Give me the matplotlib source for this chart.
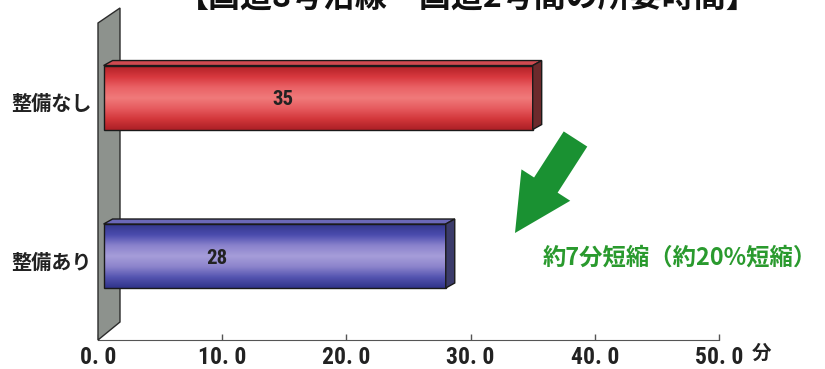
import matplotlib.pyplot as plt
import numpy as np
from matplotlib.colors import LinearSegmentedColormap
from matplotlib.patches import Polygon

plt.rcParams["font.family"] = ["Noto Sans CJK JP", "DejaVu Sans"]
NUM_FONT = ["Roboto Condensed", "DejaVu Sans"]

# travel time per case (minutes), bottom to top
categories = ["整備あり", "整備なし"]
minutes = [28, 35]
tick_values = [0, 10, 20, 30, 40, 50]
tick_labels = ["0. 0", "10. 0", "20. 0", "30. 0", "40. 0", "50. 0"]
title = "【国道8号沿線～国道2号間の所要時間】"
note = "約7分短縮（約20%短縮）"

# where the value sits inside each bar
label_pos = [9.6, 14.9]

W, H = 825, 369
fig = plt.figure(figsize=(W / 100, H / 100), dpi=100)

# plot box in pixels: x 0 -> 98px, 50 -> 719px, floor line at 340px
ax = fig.add_axes([98 / W, 1 - 340 / H, 621 / W, 332 / H])
xmin, xmax = 0, 50
ymin, ymax = -0.53, 1.565
ax.set_xlim(xmin, xmax)
ax.set_ylim(ymin, ymax)

px_x = 621 / (xmax - xmin)
px_y = 332 / (ymax - ymin)
dx, dy = 9 / px_x, 5 / px_y      # 3D depth offset
bar_h = 64 / px_y
x0 = 0.45

grad = {
    0: LinearSegmentedColormap.from_list(
        "blue", ["#33378c", "#4b4cae", "#8a82cc", "#a69dd9", "#8c84cc", "#5454b0", "#30348a"]),
    1: LinearSegmentedColormap.from_list(
        "red", ["#b22228", "#d8383e", "#ea6266", "#f07a7a", "#e65a5e", "#d2363a", "#ac2026"]),
}
top_col = {0: "#6b68b8", 1: "#cf4a50"}
side_col = {0: "#3b3b6a", 1: "#6c2a2c"}

# grey back wall
wall_w = 22 / px_x
wall = Polygon([(0, ymin), (wall_w, ymin + 18 / px_y), (wall_w, ymax),
                (0, ymax - 15 / px_y)], closed=True, facecolor="#8d928d",
               edgecolor="#2b2b2b", lw=1.0, clip_on=False, zorder=2)
ax.add_patch(wall)

for i, v in enumerate(minutes):
    yb, yt = i - bar_h / 2, i + bar_h / 2
    g = np.linspace(0, 1, 200).reshape(-1, 1)
    ax.imshow(g, cmap=grad[i], extent=(x0, v, yb, yt), origin="upper",
              aspect="auto", zorder=3, interpolation="bilinear")
    ax.add_patch(Polygon([(x0, yb), (v, yb), (v, yt), (x0, yt)], closed=True,
                         fill=False, edgecolor="#1a1a1a", lw=1.0, zorder=4))
    # top face
    ax.add_patch(Polygon([(x0, yt), (v, yt), (v + dx, yt + dy), (x0 + dx, yt + dy)],
                         closed=True, facecolor=top_col[i], edgecolor="#1a1a1a",
                         lw=1.0, zorder=4))
    # right face
    ax.add_patch(Polygon([(v, yb), (v + dx, yb + dy), (v + dx, yt + dy), (v, yt)],
                         closed=True, facecolor=side_col[i], edgecolor="#1a1a1a",
                         lw=1.0, zorder=4))
    ax.text(label_pos[i], i - 2 / px_y, str(v), ha="center", va="center",
            fontsize=15, fontweight="bold", color="#222222", zorder=5,
            family=NUM_FONT)
    ax.text(-0.5, i - 6 / px_y, categories[i], ha="right", va="center",
            fontsize=14.5, fontweight="bold", color="#222222")

ax.set_xlim(xmin, xmax)
ax.set_ylim(ymin, ymax)
for s in ["left", "right", "top"]:
    ax.spines[s].set_visible(False)
ax.spines["bottom"].set_color("#555555")
ax.spines["bottom"].set_zorder(1)
ax.set_yticks([])
ax.set_xticks(tick_values)
ax.set_xticklabels(tick_labels, fontsize=17, fontweight="bold", color="#222222",
                   family=NUM_FONT)
ax.tick_params(axis="x", direction="in", length=4, width=1, color="#555555", pad=4)

# unit label
fig.text(762 / W, 1 - 353 / H, "分", fontsize=14, fontweight="bold",
         color="#222222", ha="center", va="center")

# title, cut by the top edge
fig.text(468 / W, 1 - 7 / H, title, fontsize=23, fontweight="bold",
         color="#111111", ha="center", va="baseline")


# green arrow pointing down-left
def px(x, y):
    return (x / W, 1 - y / H)


tail = np.array([575.5, 139.0])
tip = np.array([515.0, 233.0])
d = tip - tail
L = np.linalg.norm(d)
u = d / L
n = np.array([-u[1], u[0]])
shaft_w, head_w, head_l = 28, 58, 57
base = tip - u * head_l
pts = [tail + n * shaft_w / 2, base + n * shaft_w / 2, base + n * head_w / 2, tip,
       base - n * head_w / 2, base - n * shaft_w / 2, tail - n * shaft_w / 2]
fig.patches.append(Polygon([px(*p) for p in pts], closed=True, facecolor="#1a9132",
                           edgecolor="none", transform=fig.transFigure, figure=fig))

fig.text(543 / W, 1 - 258 / H, note, fontsize=16.8, fontweight="bold",
         color="#2a9a2e", ha="left", va="center")

fig.savefig("out.png", dpi=100)
